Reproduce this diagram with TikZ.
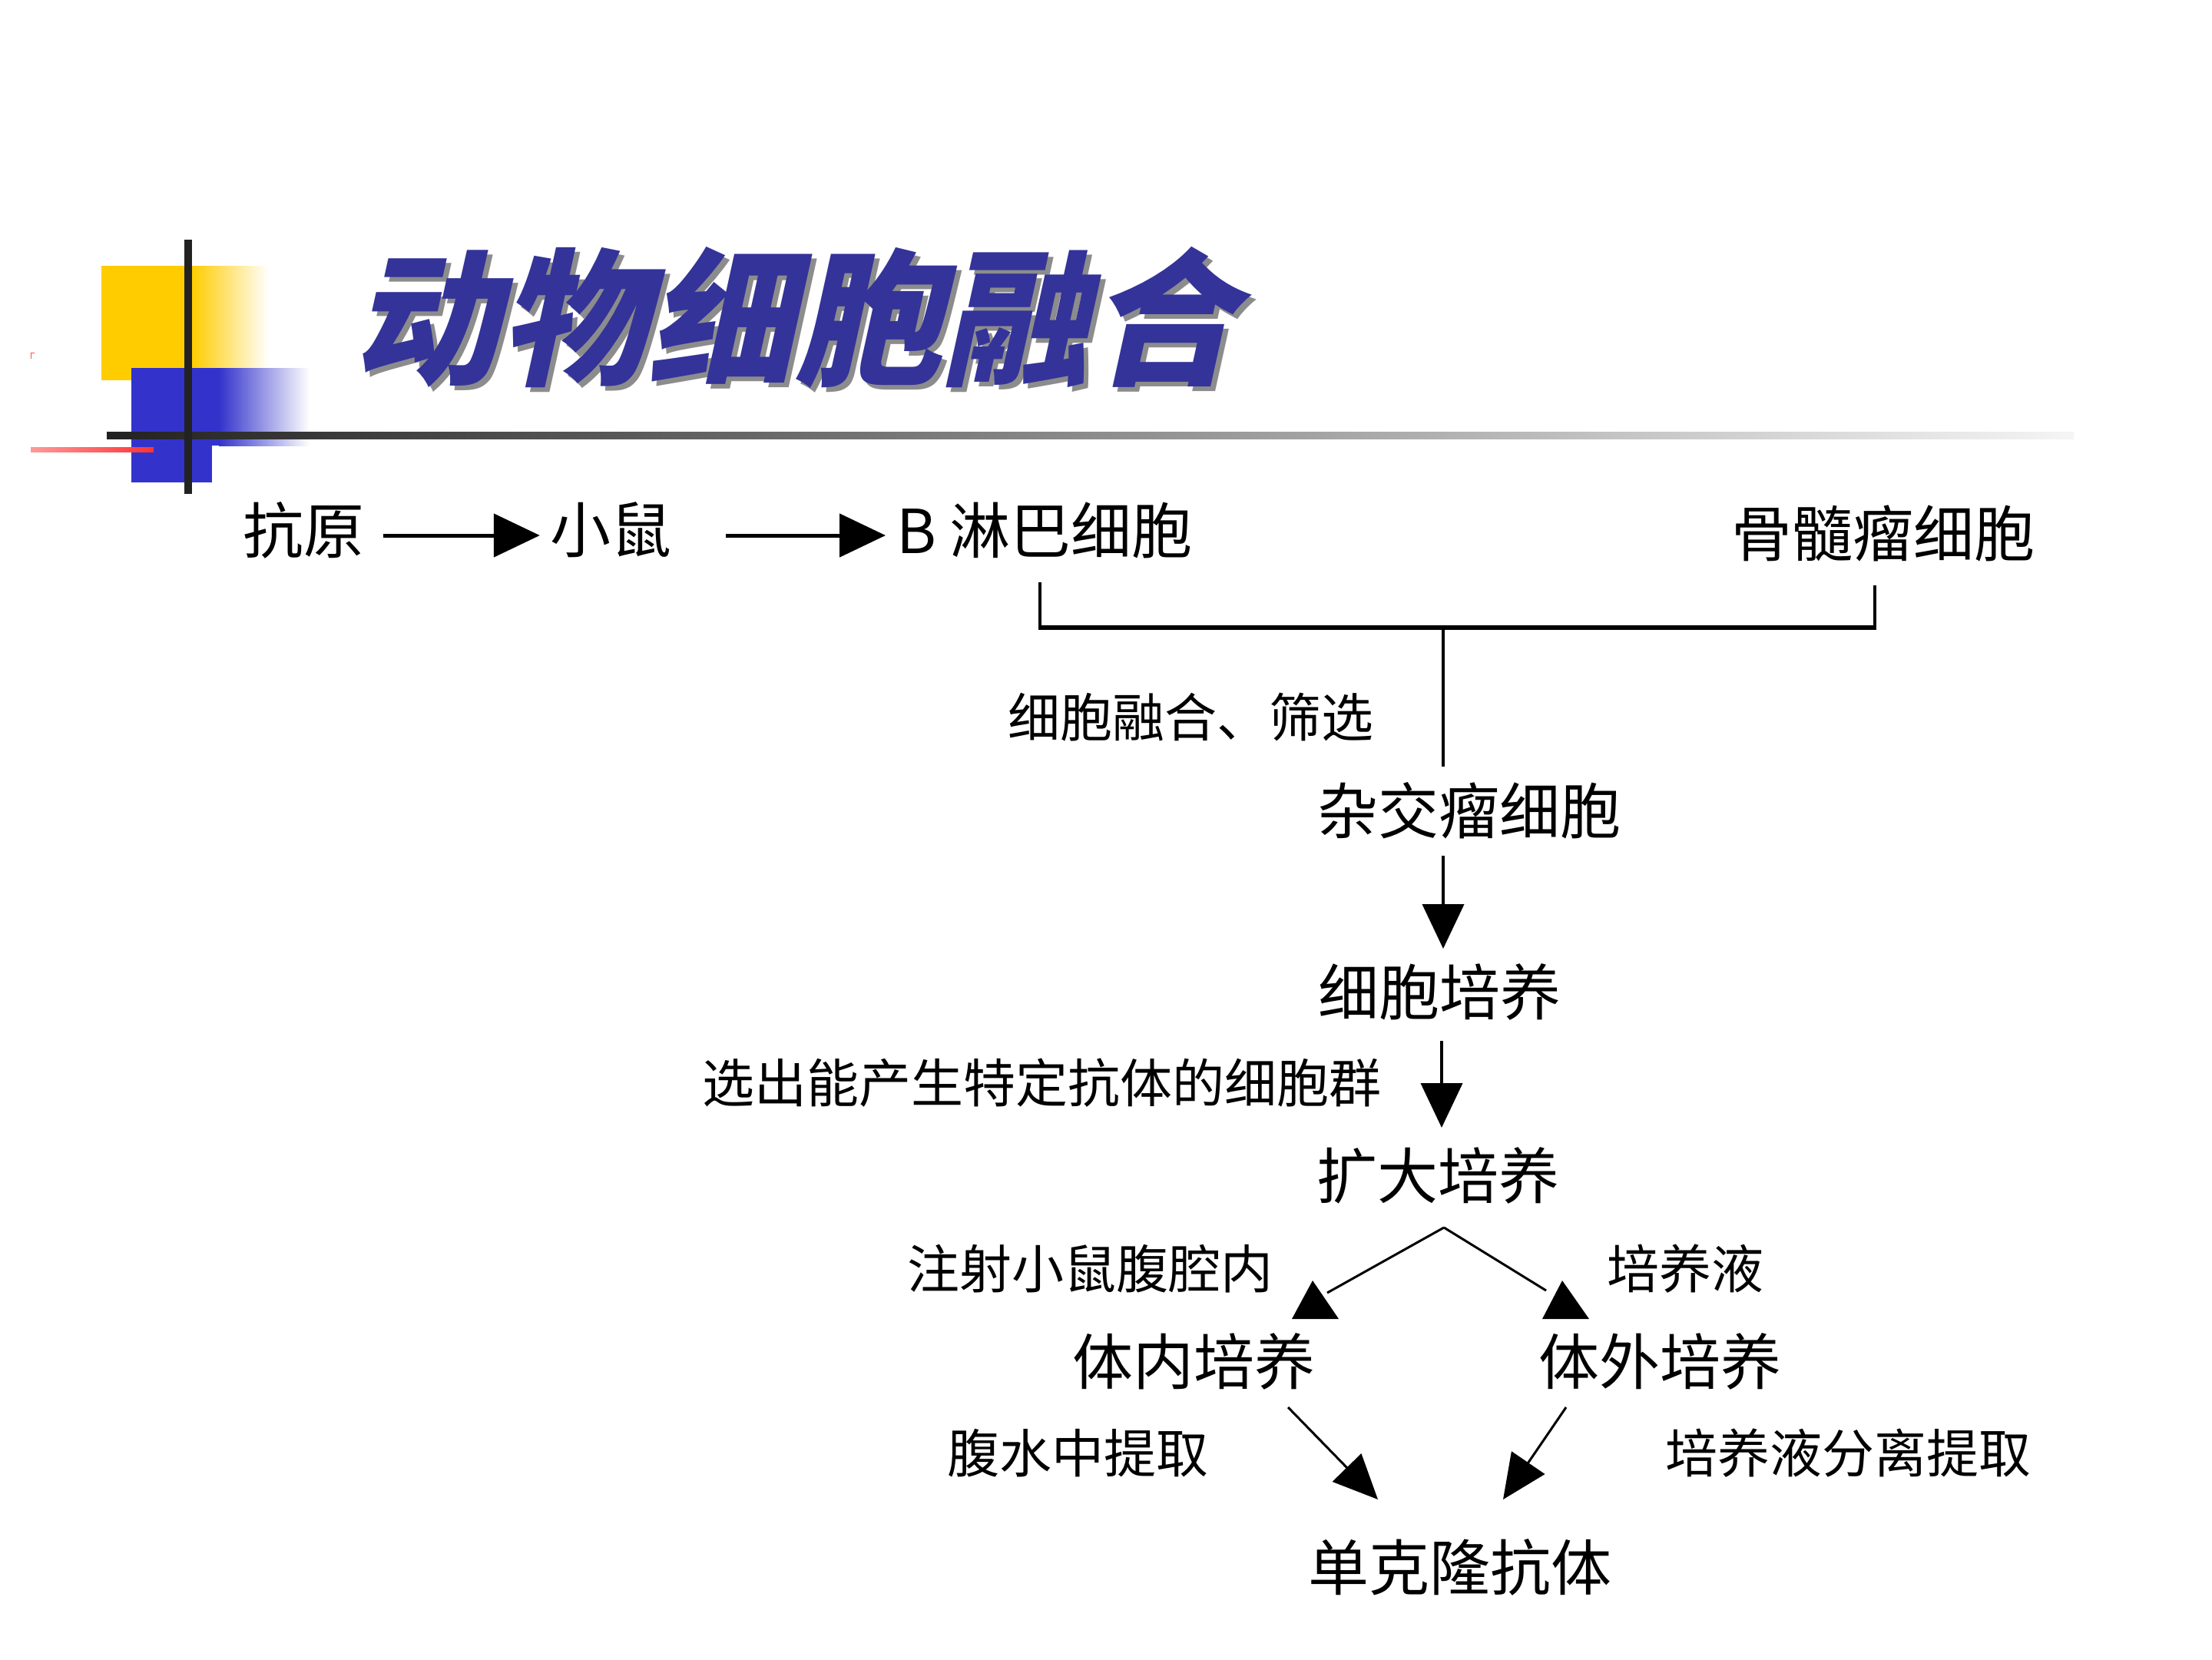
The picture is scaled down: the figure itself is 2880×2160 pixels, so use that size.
\documentclass[tikz,border=0pt]{standalone}
\usepackage{fontspec}
\newfontfamily\cjk{Noto Sans CJK SC}
\newfontfamily\titlefont[FakeSlant=0.22]{Noto Sans CJK SC}
\usetikzlibrary{arrows.meta}
\definecolor{titleblue}{HTML}{333399}
\definecolor{decoyellow}{HTML}{FFCC00}
\definecolor{decoblue}{HTML}{3333CC}
\definecolor{barblack}{HTML}{222222}
\begin{document}
\begin{tikzpicture}[x=1pt,y=1pt,
  big/.style={font=\cjk\fontsize{79}{79}\selectfont, inner sep=0pt},
  small/.style={font=\cjk\fontsize{68}{68}\selectfont, inner sep=0pt},
  ttl/.style={font=\titlefont\bfseries\fontsize{192}{192}\selectfont, inner sep=0pt},
  thinline/.style={line width=4pt},
  diag/.style={line width=3pt},
  varr/.style={line width=4pt, -{Triangle[length=58pt,width=54pt]}},
  darr/.style={line width=3pt, -{Triangle[length=58pt,width=52pt]}},
  harr/.style={line width=5pt, -{Triangle[length=60pt,width=56pt]}},
  tri/.style={fill=black}]
\fill[white] (0,0) rectangle (2880,-2160);
\useasboundingbox (0,0) rectangle (2880,-2160);

% decoration
\fill[decoyellow] (132,-346) rectangle (250,-495);
\shade[left color=decoyellow, right color=white] (250,-346) rectangle (350,-495);
\fill[decoblue] (171,-479) rectangle (285,-580);
\shade[left color=decoblue, right color=white] (285,-479) rectangle (403,-580);
\fill[decoblue] (171,-580) rectangle (276,-628);
\shade[left color=barblack, right color=black!4] (139,-562) rectangle (2700,-571);
\shade[left color=red!40, right color=red!80] (40,-582) rectangle (200,-588);
\draw[red!70, line width=1pt] (40,-467) -- (40,-459) -- (45,-459);
\fill[barblack] (240,-312) rectangle (250,-643);

% title
\node[ttl, text=black!45] at (1040,-419) {动物细胞融合};
\node[ttl, text=titleblue] (title) at (1034,-413) {动物细胞融合};

% top row
\node[big] (antigen) at (395,-690) {抗原};
\node[big] (mouse) at (795,-690) {小鼠};
\node[big] (bcell) at (1360,-690) {B 淋巴细胞};
\node[big] (myeloma) at (2452,-694) {骨髓瘤细胞};
\draw[harr] ([xshift=25pt,yshift=-7pt]antigen.east) -- ([xshift=-13pt,yshift=-7pt]mouse.west);
\draw[harr] ([xshift=71pt,yshift=-7pt]mouse.east) -- ([xshift=-14pt,yshift=-7pt]bcell.west);

% bracket
\coordinate (bl) at (1354,-758);
\coordinate (br) at (2441,-762);
\coordinate (jn) at (1879,-817);
\draw[thinline] (bl) -- (bl |- jn);
\draw[thinline] (br) -- (br |- jn);
\draw[line width=6pt] ([xshift=-2pt]bl |- jn) -- ([xshift=2pt]br |- jn);

% main column
\node[small] (fuse) at (1550,-934) {细胞融合、筛选};
\node[big] (hybrid) at (1913,-1055) {杂交瘤细胞};
\node[big] (culture) at (1874,-1291) {细胞培养};
\node[small] (select) at (1356,-1410) {选出能产生特定抗体的细胞群};
\node[big] (expand) at (1872,-1530) {扩大培养};
\draw[thinline] (jn) -- (jn |- 0,-998);
\draw[varr] (1879,-1114) -- (1879,-1235);
\draw[varr] (1877,-1355) -- (1877,-1468);

% branches
\coordinate (apex) at (1880,-1598);
\node[small] (inject) at (1419,-1652) {注射小鼠腹腔内};
\node[small] (medium) at (2194,-1652) {培养液};
\node[big] (invivo) at (1554,-1772) {体内培养};
\node[big] (invitro) at (2161,-1772) {体外培养};
\coordinate (inL) at (1728,-1683);
\coordinate (inR) at (2013,-1680);
\draw[diag] (apex) -- (inL);
\draw[diag] (apex) -- (inR);
\fill[tri] (1682,-1717) -- (1743,-1717) -- (1709,-1667) -- cycle;
\fill[tri] (2008,-1717) -- (2069,-1717) -- (2034,-1667) -- cycle;

\node[small] (ascites) at (1403,-1892) {腹水中提取};
\node[small] (separate) at (2406,-1892) {培养液分离提取};
\node[big] (mab) at (1901,-2040) {单克隆抗体};
\draw[darr] (1677,-1832) -- (1794,-1952);
\draw[darr] (2039,-1832) -- (1957,-1952);
\end{tikzpicture}
\end{document}
